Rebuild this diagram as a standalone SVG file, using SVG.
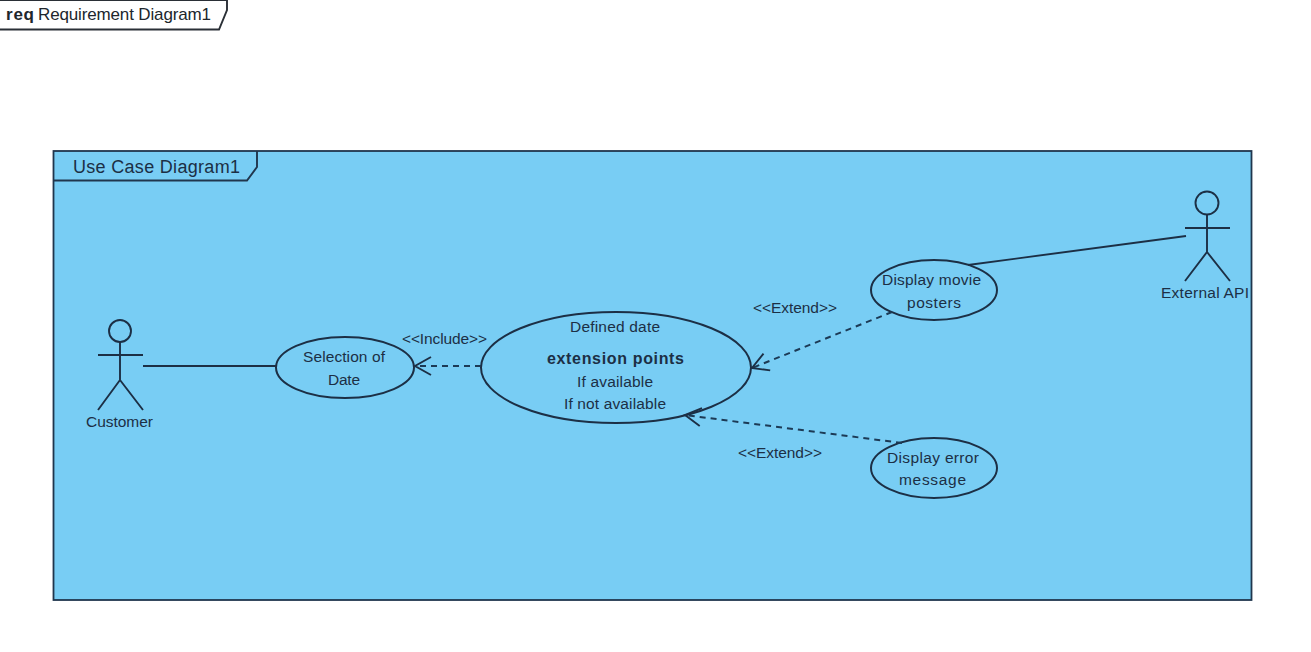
<svg xmlns="http://www.w3.org/2000/svg" width="1311" height="652" viewBox="0 0 1311 652">
<style>
.s{fill:none;stroke:#1c2f45;stroke-width:1.9}
.u{fill:#78cdf4;stroke:#1c2f45;stroke-width:2}
.d{fill:none;stroke:#1c3a55;stroke-width:2;stroke-dasharray:6 5}
text{font-family:"Liberation Sans",Arial,sans-serif;font-size:15.500px;fill:#1c2f45;text-anchor:middle}
.b{font-weight:bold}
.k{fill:#20262c;text-anchor:start;font-size:17px}
</style>
<defs>
<marker id="open" markerUnits="userSpaceOnUse" markerWidth="20" markerHeight="24" refX="17" refY="10" orient="auto"><path d="M1 1L17 10L1 19" fill="none" stroke="#1c2f45" stroke-width="1.9"/></marker>
</defs>
<rect width="1311" height="652" fill="#fff"/>
<g id="frame-req">
<path d="M-2 0H227V10L219 29.500H-2" fill="#fff" stroke="#2a2f36" stroke-width="1.9"/>
<text class="k b" x="6" y="20" textLength="28">req</text>
<text class="k" x="38" y="20" textLength="173">Requirement Diagram1</text>
</g>
<g id="frame-usecase">
<rect x="53.500" y="151" width="1198" height="449" fill="#78cdf4" stroke="#20364d" stroke-width="1.8"/>
<path d="M53.500 180.500H247L257 167V151" fill="none" stroke="#20364d" stroke-width="1.9"/>
<text x="156.500" y="173" style="font-size:18px" textLength="167">Use Case Diagram1</text>
</g>
<g id="customer">
<circle class="s" cx="120" cy="331" r="11"/>
<path class="s" d="M120 342V380M98 355H143M98 410L120 380L143 410"/>
<text x="119.500" y="427" textLength="67">Customer</text>
</g>
<g id="external-api">
<circle class="s" cx="1207" cy="203" r="11.500"/>
<path class="s" d="M1207 214.500V252M1185 228H1230M1185 281L1207 252L1230 281"/>
<text x="1205" y="298" textLength="88">External API</text>
</g>
<g id="selection-of-date">
<ellipse class="u" cx="345" cy="367.500" rx="69" ry="30.500"/>
<text x="344" y="362" textLength="82">Selection of</text>
<text x="344" y="385" textLength="32">Date</text>
</g>
<g id="defined-date">
<ellipse class="u" cx="616" cy="367.500" rx="135" ry="55.500"/>
<text x="615" y="332" textLength="90">Defined date</text>
<text class="b" x="615.500" y="364" style="font-size:16px" textLength="137">extension points</text>
<text x="615" y="387" textLength="76">If available</text>
<text x="615" y="409" textLength="102">If not available</text>
</g>
<g id="display-movie-posters">
<ellipse class="u" cx="934" cy="290" rx="63" ry="30"/>
<text x="931.500" y="285" textLength="99">Display movie</text>
<text x="934" y="308" textLength="54">posters</text>
</g>
<g id="display-error-message">
<ellipse class="u" cx="934" cy="468" rx="63" ry="30"/>
<text x="933" y="463" textLength="92">Display error</text>
<text x="932.500" y="485" textLength="67">message</text>
</g>
<g id="connectors">
<line class="s" x1="143" y1="366" x2="277" y2="366"/>
<line class="s" x1="968" y1="265" x2="1186" y2="236"/>
<line class="d" x1="481" y1="366" x2="415" y2="366" marker-end="url(#open)"/>
<line class="d" x1="892" y1="312" x2="752" y2="368" marker-end="url(#open)"/>
<line class="d" x1="902" y1="443" x2="685" y2="415" marker-end="url(#open)"/>
</g>
<g id="label-include"><text x="444.500" y="344" textLength="85">&lt;&lt;Include&gt;&gt;</text></g>
<g id="label-extend-1"><text x="795" y="313" textLength="84">&lt;&lt;Extend&gt;&gt;</text></g>
<g id="label-extend-2"><text x="780" y="458" textLength="84">&lt;&lt;Extend&gt;&gt;</text></g>
</svg>
